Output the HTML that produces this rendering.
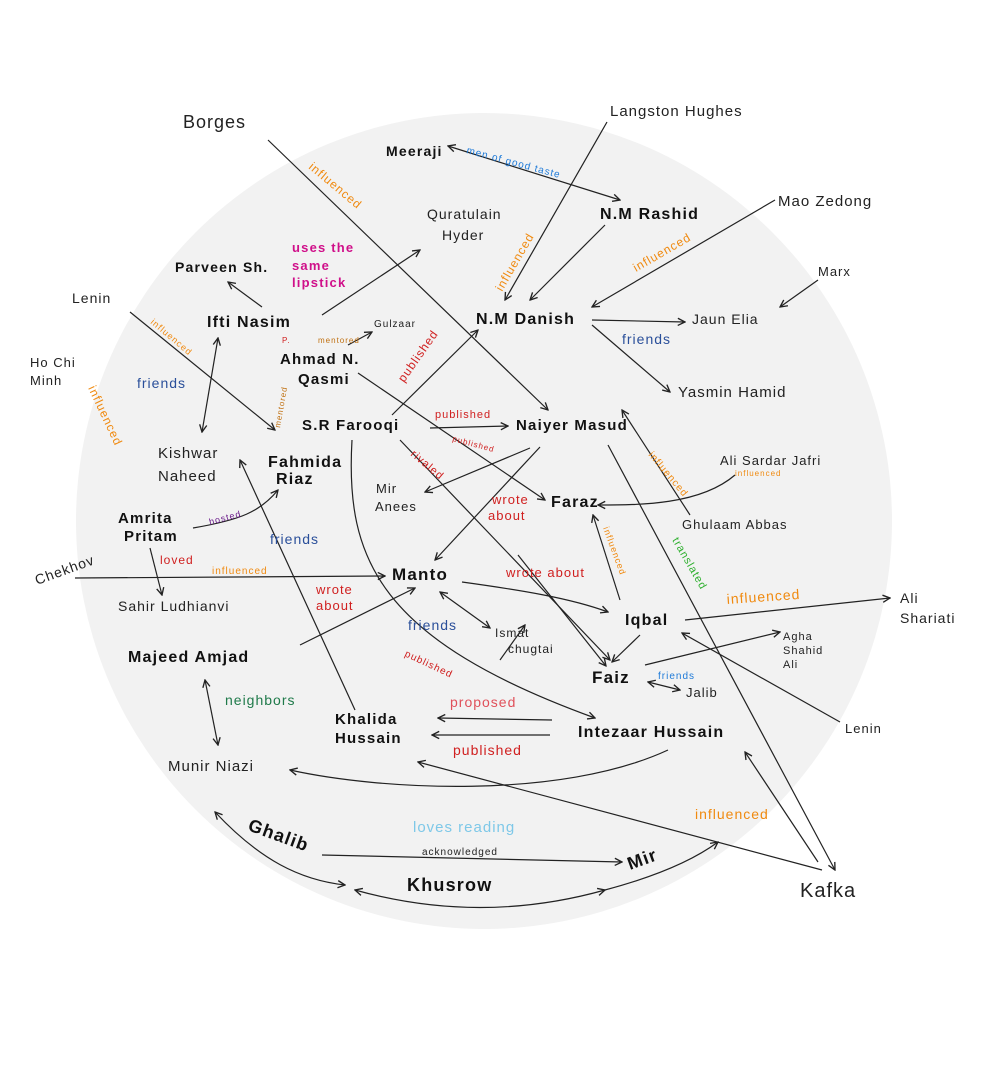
<!DOCTYPE html>
<html><head><meta charset="utf-8"><style>
body{margin:0;background:#fff;}
svg{display:block;font-family:"Liberation Sans",sans-serif;}
.n{font-weight:bold;fill:#111;letter-spacing:1px}
.t{fill:#222;letter-spacing:1px}
line,path.e{stroke:#222;fill:none;stroke-width:1.2}
</style></head><body>
<svg id="chart" width="999" height="1081" viewBox="0 0 999 1081">
<defs>
<marker id="ar" viewBox="0 0 10 10" refX="9" refY="5" markerWidth="9" markerHeight="9" orient="auto-start-reverse" markerUnits="userSpaceOnUse">
<path d="M1,1 L9,5 L1,9" fill="none" stroke="#222" stroke-width="1.5"/></marker>
</defs>
<circle cx="484" cy="521" r="408" fill="#f2f2f2"/>
<g id="edges"></g>
<g id="labels"></g>
</svg>
<script>
const NS="http://www.w3.org/2000/svg";
// edges: x1,y1,x2,y2, arrows (0 none,1 end,2 both), width
const edges=[
[268,140,548,410,1,1],[448,146,620,200,2,2.5],[607,122,505,300,1,1],[605,225,530,300,1,2.5],
[775,200,592,307,1,1],[818,280,780,307,1,1],[592,320,685,322,1,2],[592,325,670,392,1,1],
[322,315,420,250,1,1.5],[262,307,228,282,1,1],[348,345,372,332,1,1],[130,312,275,430,1,1.2],
[218,338,202,432,2,1.5],[392,415,478,330,1,1.5],[430,428,508,426,1,1.5],
[358,373,545,500,1,1],[400,440,610,660,1,1],[530,448,425,492,1,1],[540,447,435,560,1,1.5],
[690,515,622,410,1,1],[608,445,835,870,1,1.5],[150,548,162,595,1,1.2],[75,578,385,576,1,1.5],
[355,710,240,460,1,1],[300,645,415,588,1,1.2],[440,592,490,628,2,1],[518,555,606,666,1,1],
[620,600,593,515,1,1],[640,635,612,662,1,2.5],[685,620,890,598,1,3],[840,722,682,633,1,1],
[645,665,780,632,1,1],[648,682,680,690,2,1],[205,680,218,745,2,1.5],[552,720,438,718,1,1],
[550,735,432,735,1,1],[822,870,418,762,1,1],[818,862,745,752,1,1],[322,855,622,862,1,1],
[500,660,525,625,1,1]
];
const curves=[
["M352,440 C345,560 380,640 595,718",1,1.5],["M193,528 C240,520 260,512 278,490",1,1],
["M462,582 C520,590 570,598 608,612",1,1],["M735,475 C700,505 640,505 598,505",1,1],
["M668,750 C560,800 380,790 290,770",1,1],["M215,812 C260,860 300,880 345,885",2,3],
["M355,890 Q480,925 605,890",2,2.5],["M605,890 Q680,870 718,842",1,2.5]
];
// labels: text,x,y,size,weight,color,rotate
const labels=[
["Borges",183,128,18,0,"#222",0],["Langston Hughes",610,116,15,0,"#222",0],["Meeraji",386,156,14,1,"#111",0],
["N.M Rashid",600,219,16,1,"#111",0],["Mao Zedong",778,206,15,0,"#222",0],["Quratulain",427,219,14,0,"#222",0],
["Hyder",442,240,14,0,"#222",0],["Parveen Sh.",175,272,14,1,"#111",0],["uses the",292,252,13,1,"#d0108a",0],
["same",292,270,13,1,"#d0108a",0],["lipstick",292,287,13,1,"#d0108a",0],["Marx",818,276,13,0,"#222",0],
["Lenin",72,303,14,0,"#222",0],["Ifti Nasim",207,327,16,1,"#111",0],["Gulzaar",374,327,10,0,"#222",0],
["N.M Danish",476,324,16,1,"#111",0],["Jaun Elia",692,324,14,0,"#222",0],["Ahmad N.",280,364,15,1,"#111",0],
["Qasmi",298,384,15,1,"#111",0],["Ho Chi",30,367,13,0,"#222",0],["Minh",30,385,13,0,"#222",0],
["friends",622,344,14,0,"#2a4f9a",0],["Yasmin Hamid",678,397,15,0,"#222",0],["friends",137,388,14,0,"#2a4f9a",0],
["S.R Farooqi",302,430,15,1,"#111",0],["Naiyer Masud",516,430,15,1,"#111",0],["Kishwar",158,458,15,0,"#222",0],
["Naheed",158,481,15,0,"#222",0],["Fahmida",268,467,16,1,"#111",0],["Riaz",276,484,16,1,"#111",0],
["Ali Sardar Jafri",720,465,13,0,"#222",0],["Mir",376,493,13,0,"#222",0],["Anees",375,511,13,0,"#222",0],
["Faraz",551,507,16,1,"#111",0],["Amrita",118,523,15,1,"#111",0],["Pritam",124,541,15,1,"#111",0],
["Ghulaam Abbas",682,529,13,0,"#222",0],["friends",270,544,14,0,"#2a4f9a",0],["Chekhov",37,585,14,0,"#222",-20],
["Manto",392,580,17,1,"#111",0],["Sahir Ludhianvi",118,611,14,0,"#222",0],["Iqbal",625,625,16,1,"#111",0],
["Ali",900,603,14,0,"#222",0],["Shariati",900,623,14,0,"#222",0],["Ismat",495,637,12,0,"#222",0],
["chugtai",508,653,12,0,"#222",0],["Majeed Amjad",128,662,16,1,"#111",0],["Agha",783,640,11,0,"#222",0],
["Shahid",783,654,11,0,"#222",0],["Ali",783,668,11,0,"#222",0],["Faiz",592,683,17,1,"#111",0],
["Jalib",686,697,13,0,"#222",0],["neighbors",225,705,14,0,"#1f7a4a",0],["Khalida",335,724,15,1,"#111",0],
["Hussain",335,743,15,1,"#111",0],["proposed",450,707,14,0,"#e0505a",0],["Intezaar Hussain",578,737,16,1,"#111",0],
["Lenin",845,733,13,0,"#222",0],["published",453,755,14,0,"#d02020",0],["Munir Niazi",168,771,15,0,"#222",0],
["loves reading",413,832,15,0,"#7ec8e8",0],["influenced",695,819,14,0,"#f08a10",0],["Ghalib",247,830,18,1,"#111",20],
["acknowledged",422,855,10,0,"#222",0],["Mir",630,870,18,1,"#111",-20],["Khusrow",407,891,18,1,"#111",0],
["Kafka",800,897,20,0,"#222",0],
["men of good taste",466,153,10,0,"#1e7ad8",15],["influenced",308,168,12,0,"#f08a10",40],["influenced",502,292,12,0,"#f08a10",-60],
["influenced",636,272,12,0,"#f08a10",-30],["influenced",150,323,9,0,"#f08a10",40],["influenced",88,388,12,0,"#f08a10",65],
["published",404,383,12,0,"#d02020",-55],["published",435,418,11,0,"#d02020",0],["published",452,441,8,0,"#d02020",15],
["rivaled",410,455,11,0,"#d02020",40],["mentored",280,428,8,0,"#c07010",-80],["mentored",318,343,8,0,"#c07010",0],
["P.",282,343,8,0,"#d02020",0],["influenced",648,455,10,0,"#f08a10",50],["influenced",735,476,8,0,"#f08a10",0],
["hosted",210,525,9,0,"#6a1a8a",-15],["loved",160,564,12,0,"#d02020",0],["influenced",212,574,10,0,"#f08a10",0],
["wrote",492,504,13,0,"#d02020",0],["about",488,520,13,0,"#d02020",0],["wrote about",506,577,13,0,"#d02020",0],
["wrote",316,594,13,0,"#d02020",0],["about",316,610,13,0,"#d02020",0],["friends",408,630,14,0,"#2a4f9a",0],
["influenced",603,528,9,0,"#f08a10",70],["translated",672,540,11,0,"#30b030",60],["influenced",727,604,14,0,"#f08a10",-4],
["friends",658,679,10,0,"#1e7ad8",0],["published",404,656,10,0,"#d02020",25]
];
const E=document.getElementById('edges'),L=document.getElementById('labels');
edges.forEach(d=>{const l=document.createElementNS(NS,'line');


l.setAttribute('x1',d[0]);l.setAttribute('y1',d[1]);l.setAttribute('x2',d[2]);l.setAttribute('y2',d[3]);
l.setAttribute('stroke-width',d[5]);
if(d[4]>=1)l.setAttribute('marker-end','url(#ar)');if(d[4]==2)l.setAttribute('marker-start','url(#ar)');
E.appendChild(l);});
curves.forEach(c=>{const p=document.createElementNS(NS,'path');


p.setAttribute('class','e');p.setAttribute('d',c[0]);p.setAttribute('stroke-width',c[2]);
p.setAttribute('marker-end','url(#ar)');if(c[1]==2)p.setAttribute('marker-start','url(#ar)');
E.appendChild(p);});
labels.forEach(t=>{const e=document.createElementNS(NS,'text');


e.setAttribute('x',t[1]);e.setAttribute('y',t[2]);e.setAttribute('font-size',t[3]);
e.setAttribute('font-weight',t[4]?'bold':'normal');e.setAttribute('fill',t[5]);
e.setAttribute('letter-spacing',t[4]?'1.2':'1');
if(t[6])e.setAttribute('transform','rotate('+t[6]+' '+t[1]+' '+t[2]+')');
e.textContent=t[0];L.appendChild(e);});
</script>
</body></html>
